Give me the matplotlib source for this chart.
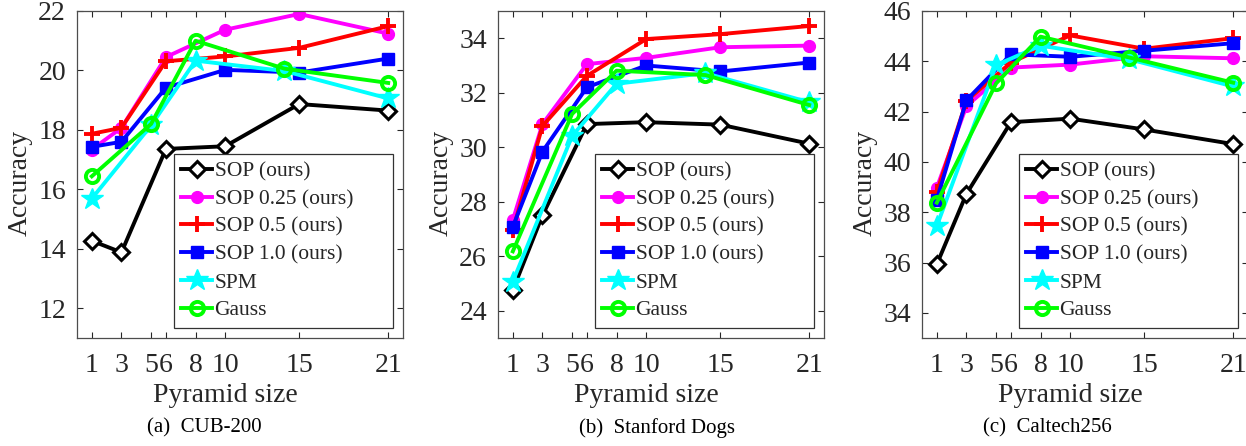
import matplotlib
matplotlib.use("Agg")
from matplotlib import pyplot as plt

plt.rcParams['font.family'] = ['Liberation Serif', 'DejaVu Serif']

# pyramid sizes
x_sop = [1, 3, 6, 10, 15, 21]
x_base = [1, 5, 8, 14, 21]
xticks = [1, 3, 5, 6, 8, 10, 15, 21]

# CUB-200
cub_sop = [14.27, 13.88, 17.36, 17.45, 18.87, 18.65]
cub_sop025 = [17.34, 18.07, 20.45, 21.37, 21.9, 21.24]
cub_sop05 = [17.87, 18.07, 20.31, 20.47, 20.76, 21.49]
cub_sop10 = [17.43, 17.6, 19.42, 20.02, 19.93, 20.4]
cub_spm = [15.69, 18.15, 20.33, 19.98, 19.06]
cub_gauss = [16.44, 18.2, 21.0, 20.06, 19.58]

# Stanford Dogs
dogs_sop = [24.76, 27.5, 30.85, 30.92, 30.83, 30.13]
dogs_sop025 = [27.33, 30.85, 33.05, 33.28, 33.67, 33.73]
dogs_sop05 = [26.96, 30.78, 32.62, 33.97, 34.15, 34.45]
dogs_sop10 = [27.08, 29.84, 32.2, 33.0, 32.78, 33.11]
dogs_spm = [25.07, 30.41, 32.33, 32.72, 31.65]
dogs_gauss = [26.18, 31.22, 32.81, 32.65, 31.55]

# Caltech256
cal_sop = [35.93, 38.73, 41.58, 41.72, 41.29, 40.71]
cal_sop025 = [38.98, 42.22, 43.75, 43.87, 44.2, 44.12]
cal_sop05 = [38.8, 42.42, 43.95, 45.03, 44.5, 44.92]
cal_sop10 = [38.5, 42.45, 44.28, 44.18, 44.42, 44.72]
cal_spm = [37.45, 43.85, 44.62, 44.08, 43.0]
cal_gauss = [38.38, 43.12, 44.98, 44.15, 43.15]

labels = ['SOP (ours)', 'SOP 0.25 (ours)', 'SOP 0.5 (ours)', 'SOP 1.0 (ours)', 'SPM', 'Gauss']
captions = ['(a)  CUB-200', '(b)  Stanford Dogs', '(c)  Caltech256']
ylims = [(11, 22), (23, 35), (33, 46)]
yticks = [range(12, 23, 2), range(24, 35, 2), range(34, 47, 2)]

datasets = [
    (cub_sop, cub_sop025, cub_sop05, cub_sop10, cub_spm, cub_gauss),
    (dogs_sop, dogs_sop025, dogs_sop05, dogs_sop10, dogs_spm, dogs_gauss),
    (cal_sop, cal_sop025, cal_sop05, cal_sop10, cal_spm, cal_gauss),
]

fig = plt.figure(figsize=(12.46, 4.46), dpi=100)
lefts = [77, 498, 922]
cap_x = [204, 657, 1047]
txt = '#262626'
lw = 2.8
ms = 9.5

for i in range(3):
    ax = fig.add_axes([lefts[i] / 1246, 108 / 446, 326 / 1246, 327 / 446])
    sop, s025, s05, s10, spm, gauss = datasets[i]
    ax.plot(x_sop, sop, '-', color='k', lw=lw, marker='D', ms=ms - 1,
            mfc='white', mec='k', mew=2.2, label=labels[0])
    ax.plot(x_sop, s025, '-', color='#ff00ff', lw=lw, marker='o', ms=ms - 1,
            mfc='#ff00ff', mec='#ff00ff', label=labels[1])
    ax.plot(x_sop, s05, '-', color='#ff0000', lw=lw, marker='+', ms=ms + 2,
            mew=2.8, label=labels[2])
    ax.plot(x_sop, s10, '-', color='#0000ff', lw=lw, marker='s', ms=ms - 1,
            mfc='#0000ff', mec='#0000ff', label=labels[3])
    ax.plot(x_base, spm, '-', color='#00ffff', lw=lw, marker='*', ms=ms + 7,
            mfc='#00ffff', mec='#00ffff', label=labels[4])
    ax.plot(x_base, gauss, '-', color='#00ff00', lw=lw, marker='o', ms=ms,
            mfc='none', mec='#00ff00', mew=2.8, label=labels[5])

    ax.set_xlim(0, 22)
    ax.set_ylim(*ylims[i])
    ax.set_xticks(xticks)
    ax.set_yticks(list(yticks[i]))
    ax.tick_params(direction='in', top=True, right=True, length=4, width=0.8,
                   labelsize=20, colors=txt, pad=8)
    ax.tick_params(axis='x', pad=11)
    for sp in ax.spines.values():
        sp.set_color('#4d4d4d')
        sp.set_linewidth(0.9)
    ax.set_xlabel('Pyramid size', fontsize=20, color=txt)
    ax.set_ylabel('Accuracy', fontsize=20, color=txt)
    ax.xaxis.set_label_coords(0.454, -0.137)
    ax.yaxis.set_label_coords(-0.135, 0.474)

    # trailing spaces give the wide right margin of the original legend
    leg_labels = [lab + '\u2007' * 3 if lab == 'SOP 0.25 (ours)' else lab for lab in labels]
    handles = ax.get_lines()
    leg = ax.legend(handles, leg_labels, loc='lower right', bbox_to_anchor=(0.969, 0.031),
                    fontsize=15.5, handlelength=1.45, handletextpad=0.1, labelspacing=0.36,
                    borderpad=0.35, fancybox=False, framealpha=1, borderaxespad=0)
    leg.get_frame().set_edgecolor('#333333')
    leg.get_frame().set_linewidth(0.9)
    for t in leg.get_texts():
        t.set_color(txt)

    fig.text(cap_x[i] / 1246, 1 - 428 / 446, captions[i], ha='center', va='center',
             fontsize=15, color='k')

plt.savefig('out.png', dpi=100)
